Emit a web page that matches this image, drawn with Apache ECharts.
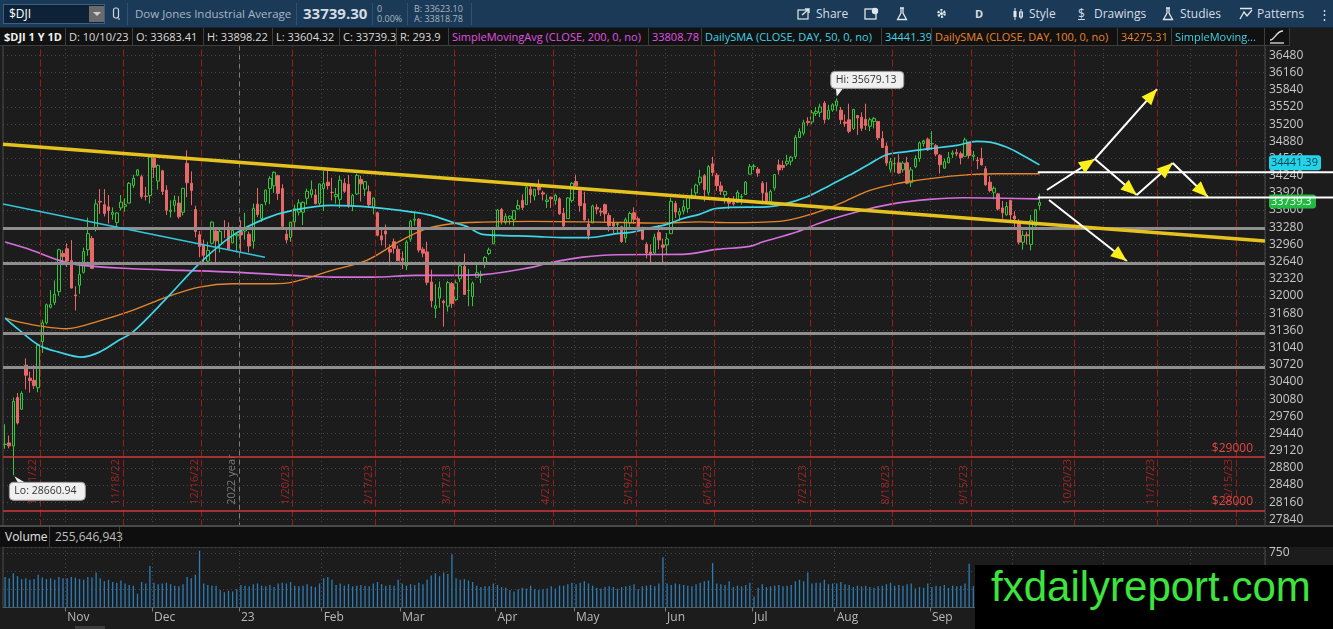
<!DOCTYPE html>
<html><head><meta charset="utf-8"><title>$DJI</title>
<script src="https://cdn.jsdelivr.net/npm/echarts@6/dist/echarts.min.js"></script>
<style>
*{box-sizing:border-box}
html,body{margin:0;padding:0;background:#1c1c1c;width:1333px;height:629px;overflow:hidden;font-family:"Open Sans","Noto Sans",sans-serif}
#chart{position:absolute;left:0;top:0;width:1333px;height:629px}
#tb{position:absolute;left:0;top:0;width:1333px;height:28px;background:#1a3a58;border-bottom:1px solid #10273c}
#tb .t{position:absolute;top:6px;font-size:12px;color:#d6dee6;line-height:16px;white-space:nowrap}
#tb .s{position:absolute;font-size:9px;color:#a9b5c0;line-height:10px;white-space:nowrap}
#tb svg{position:absolute;top:7px}
.sep{position:absolute;top:3px;width:1px;height:22px;background:#2f5272}
#sym{position:absolute;left:3px;top:4px;width:102px;height:20px;background:#0d2236;border:1px solid #3a5f82;color:#fff;font-size:12px;line-height:18px;padding-left:5px}
#dd{position:absolute;left:85px;top:1px;width:15px;height:16px;background:#6a6a6a}
#dd:after{content:"";position:absolute;left:4px;top:6px;border-left:4px solid transparent;border-right:4px solid transparent;border-top:4px solid #cfcfcf}
#row2{position:absolute;left:0;top:28px;width:1333px;height:18px;background:#1c1c1c}
.bx{position:absolute;top:0;height:18px;line-height:17px;font-size:11px;background:#111;border-right:1px solid #3e3e3e;border-bottom:1px solid #3e3e3e;padding-left:3px;overflow:hidden;white-space:nowrap;color:#dcdcdc}
#vband{position:absolute;left:0;top:525px;width:1333px;height:22px;background:#0e0e0e;border-top:2px solid #4a4a4a}
.vb{position:absolute;top:0;height:20px;line-height:19px;font-size:12px;border-right:1px solid #3e3e3e;padding-left:5px;white-space:nowrap}
#wm{position:absolute;left:975px;top:565px;width:358px;height:64px;background:#000;overflow:hidden}
#wm span{position:absolute;left:16px;top:-2px;font-family:"Liberation Sans",Arial,sans-serif;font-size:42px;line-height:48px;color:#3de43d;white-space:nowrap}
#scr{position:absolute;left:75px;top:626px;width:30px;height:3px;background:#3c3c3c}
</style></head>
<body>
<div id="chart"></div>

<div id="tb">
  <div id="sym">$DJI<div id="dd"></div></div>
  <svg style="left:112px" width="9" height="14" viewBox="0 0 9 14"><rect x="1.5" y="1" width="5" height="10" rx="2" fill="none" stroke="#cfd8e0" stroke-width="1.2"/><path d="M6 12 L8 12" stroke="#cfd8e0"/></svg>
  <div class="sep" style="left:127px"></div>
  <div class="t" style="left:135px;color:#a7b6c4;font-size:11.5px">Dow Jones Industrial Average</div>
  <div class="sep" style="left:296px"></div>
  <div class="t" style="left:303px;top:5px;font-size:15px;font-weight:bold;color:#d3dbe3">33739.30</div>
  <div class="sep" style="left:372px"></div>
  <div class="s" style="left:377px;top:4px">0</div>
  <div class="s" style="left:377px;top:14px">0.00%</div>
  <div class="sep" style="left:407px"></div>
  <div class="s" style="left:414px;top:4px">B: 33623.10</div>
  <div class="s" style="left:414px;top:14px">A: 33818.78</div>
  <div class="sep" style="left:471px"></div>

  <svg style="left:797px" width="14" height="13" viewBox="0 0 14 13"><rect x="1" y="3" width="10" height="9" fill="none" stroke="#dfe6ec" stroke-width="1.2"/><path d="M5 8 L12 2 M8 2 H12 V6" fill="none" stroke="#dfe6ec" stroke-width="1.4"/></svg>
  <div class="t" style="left:816px">Share</div>
  <svg style="left:864px" width="15" height="13" viewBox="0 0 15 13"><rect x="1" y="2" width="11" height="10" fill="none" stroke="#dfe6ec" stroke-width="1.3"/><circle cx="11" cy="4" r="3.2" fill="#dfe6ec"/></svg>
  <svg style="left:896px" width="12" height="14" viewBox="0 0 12 14"><path d="M4 1 H8 M5 1 V6 L1.5 12.5 H10.5 L7 6 V1" fill="none" stroke="#dfe6ec" stroke-width="1.3"/></svg>
  <svg style="left:935px" width="13" height="13" viewBox="0 0 13 13"><circle cx="6.5" cy="6.5" r="3.2" fill="none" stroke="#dfe6ec" stroke-width="2.4" stroke-dasharray="2 1.4"/><circle cx="6.5" cy="6.5" r="1.6" fill="#dfe6ec"/></svg>
  <div class="t" style="left:975px;font-weight:bold;font-size:11px">D</div>
  <svg style="left:1012px" width="12" height="14" viewBox="0 0 12 14"><path d="M3 1 V13 M9 2 V12" stroke="#dfe6ec" stroke-width="1"/><rect x="1.5" y="4" width="3" height="6" fill="#dfe6ec"/><rect x="7.5" y="5" width="3" height="5" fill="none" stroke="#dfe6ec"/></svg>
  <div class="t" style="left:1029px">Style</div>
  <div class="t" style="left:1078px;text-decoration:underline">$</div>
  <div class="t" style="left:1094px">Drawings</div>
  <svg style="left:1162px" width="12" height="14" viewBox="0 0 12 14"><path d="M4 1 H8 M5 1 V6 L1.5 12.5 H10.5 L7 6 V1" fill="none" stroke="#dfe6ec" stroke-width="1.3"/></svg>
  <div class="t" style="left:1180px">Studies</div>
  <svg style="left:1239px" width="14" height="13" viewBox="0 0 14 13"><path d="M1 1.5 H13 M1 12 L5 5 L8 9 L13 3" fill="none" stroke="#dfe6ec" stroke-width="1.3"/></svg>
  <div class="t" style="left:1257px">Patterns</div>
  <div class="t" style="left:1318px;font-size:13px">&#8942;&#8942;</div>
</div>

<div id="row2">
  <div class="bx" style="left:0;width:66px;font-weight:bold;color:#f0f0f0;padding-left:4px">$DJI 1 Y 1D</div>
  <div class="bx" style="left:66px;width:67px">D: 10/10/23</div>
  <div class="bx" style="left:133px;width:71px">O: 33683.41</div>
  <div class="bx" style="left:204px;width:69px">H: 33898.22</div>
  <div class="bx" style="left:273px;width:67px">L: 33604.32</div>
  <div class="bx" style="left:340px;width:57px">C: 33739.3</div>
  <div class="bx" style="left:397px;width:52px">R: 293.9</div>
  <div class="bx" style="left:449px;width:200px;color:#e052e0">SimpleMovingAvg (CLOSE, 200, 0, no)</div>
  <div class="bx" style="left:649px;width:53px;color:#e052e0">33808.78</div>
  <div class="bx" style="left:702px;width:180px;color:#3fd3e4">DailySMA (CLOSE, DAY, 50, 0, no)</div>
  <div class="bx" style="left:882px;width:50px;color:#3fd3e4">34441.39</div>
  <div class="bx" style="left:932px;width:186px;color:#e8852a">DailySMA (CLOSE, DAY, 100, 0, no)</div>
  <div class="bx" style="left:1118px;width:54px;color:#e8852a">34275.31</div>
  <div class="bx" style="left:1172px;width:93px;color:#3fd3e4">SimpleMoving...</div>
  <div class="bx" style="left:1265px;width:25px;padding-left:3px"><svg width="18" height="16" viewBox="0 0 18 16"><path d="M2 12 C7 12 8 3 15 3" fill="none" stroke="#e0e0e0" stroke-width="1.3"/><path d="M2 15 H16" stroke="#e0e0e0" stroke-width="1.3"/></svg></div>
</div>

<div id="vband">
  <div class="vb" style="left:0;width:50px;color:#e4e4e4">Volume</div>
  <div class="vb" style="left:50px;width:70px;color:#bdbdbd">255,646,943</div>
</div>
<div id="scr"></div>
<div id="wm"><span>fxdailyreport.com</span></div>

<script>
// ---------------- calendar ----------------
const START_DATE = '2022-10-11';
const SLOT_COUNT = 305;               // trading days incl. empty future space
const HOLIDAYS = ['2022-11-24','2022-12-26','2023-01-02','2023-01-16','2023-02-20','2023-04-07',
  '2023-05-29','2023-06-19','2023-07-04','2023-09-04','2023-11-23','2023-12-25'];
const MONTHS = ['Jan','Feb','Mar','Apr','May','Jun','Jul','Aug','Sep','Oct','Nov','Dec'];
const EXPIRIES = ['2022-10-21','2022-11-18','2022-12-16','2023-01-20','2023-02-17','2023-03-17','2023-04-21',
  '2023-05-19','2023-06-16','2023-07-21','2023-08-18','2023-09-15','2023-10-20','2023-11-17','2023-12-15'];
const YEAR_START = '2023-01-03';

// ---------------- daily candles [open, high, low, close] ----------------
const M2210 = [[29238,29612,29155,29239],[29265,29402,29163,29210],[29206,30110,28660.94,30039],[30110,30193,29608,29635],
 [29890,30224,29886,30186],[30710,30840,30260,30524],[30470,30590,30200,30424],[30430,30710,30270,30334],
 [30290,31100,30207,31083],[31150,31560,30940,31500],[31500,31860,31470,31837],[31790,32110,31770,31839],
 [31880,32290,31830,32033],[32080,32880,32000,32862],[32790,32850,32570,32733]];
const M2211 = [[32880,32980,32540,32653],[32660,33040,32140,32148],[32020,32180,31730,32001],[32200,32580,32040,32403],
 [32440,32900,32420,32827],[32860,33460,32750,33161],[33070,33120,32510,32514],[33240,33800,33200,33715],
 [33760,33990,33530,33748],[33700,33990,33480,33537],[33660,33880,33350,33593],[33520,33650,33420,33554],
 [33370,33560,33280,33546],[33640,33880,33590,33746],[33670,33820,33570,33700],[33730,34120,33730,34098],
 [34060,34260,34010,34194],[34250,34360,34230,34347],[34220,34260,33810,33849],[33860,34030,33780,33853],
 [33870,34590,33720,34590]];
const M2212 = [[34560,34600,34200,34395],[34140,34450,33980,34430],[34330,34350,33880,33947],[33970,34060,33510,33596],
 [33570,33780,33460,33598],[33690,33870,33560,33781],[33730,33860,33440,33476],[33560,34010,33500,34005],
 [34470,34712,33840,34109],[34100,34320,33690,33966],[33610,33680,33090,33202],[33140,33210,32720,32920],
 [32960,33050,32620,32758],[32650,33010,32580,32850],[32980,33390,32980,33376],[33210,33280,32580,33027],
 [32960,33230,32810,33204],[33260,33410,33080,33242],[33280,33370,32870,32876],[32990,33290,32980,33221],
 [33120,33150,32810,33147]];
const M2301 = [[33200,33410,32810,33136],[33210,33550,33050,33270],[33150,33200,32810,32930],[33020,33720,32880,33631],
 [33710,34010,33470,33518],[33440,33710,33380,33704],[33750,33980,33690,33973],[34000,34230,33710,34190],
 [34050,34320,33920,34303],[34240,34260,33790,33911],[34000,34080,33270,33297],[33150,33280,32980,33045],
 [33090,33380,33010,33375],[33380,33700,33280,33630],[33560,33800,33500,33734],[33560,33760,33320,33744],
 [33820,34000,33700,33949],[33890,34150,33830,33978],[33880,33990,33710,33717],[33720,34090,33690,34086]];
const M2302 = [[34000,34330,33580,34093],[34120,34340,33980,34054],[33930,34200,33780,33926],[33850,34010,33720,33891],
 [33800,34240,33640,34157],[34100,34190,33920,33949],[34080,34250,33640,33700],[33680,33900,33580,33869],
 [33900,34280,33880,34246],[34170,34240,33760,34089],[33990,34140,33860,34128],[33940,34060,33640,33697],
 [33650,33830,33520,33827],[33550,33570,33110,33130],[33120,33240,32940,33045],[33210,33330,32900,33154],
 [32870,32960,32570,32817],[33010,33070,32790,32889],[32870,32940,32650,32657]];
const M2303 = [[32700,32830,32500,32662],[32560,33040,32480,33004],[33060,33420,33010,33391],[33410,33570,33310,33431],
 [33430,33450,32810,32856],[32870,32910,32720,32798],[32820,33010,32200,32255],[32260,32490,31790,31910],
 [31770,32220,31590,31819],[31960,32270,31780,32155],[31900,31930,31430,31875],[31810,32280,31710,32247],
 [32230,32260,31780,31862],[31930,32290,31910,32245],[32320,32620,32260,32561],[32550,32790,32030,32030],
 [32100,32500,31810,32105],[31990,32270,31810,32238],[32350,32600,32340,32432],[32380,32470,32240,32394],
 [32590,32740,32520,32718],[32790,32900,32760,32859],[32970,33280,32970,33274]];
const M2304 = [[33280,33620,33270,33601],[33610,33640,33330,33402],[33370,33540,33330,33483],[33440,33500,33330,33485],
 [33420,33600,33300,33587],[33620,33790,33600,33685],[33780,33890,33600,33647],[33700,34040,33700,34030],
 [33990,34080,33730,33886],[33860,33990,33780,33987],[34050,34170,33880,33977],[33920,33960,33780,33897],
 [33760,33890,33640,33787],[33840,33850,33640,33809],[33780,33900,33700,33875],[33810,33840,33510,33531],
 [33540,33640,33280,33302],[33440,33840,33440,33826],[33780,34120,33740,34098]];
const M2305 = [[34130,34260,34010,34052],[33960,34010,33570,33685],[33720,33940,33400,33414],[33340,33440,33050,33128],
 [33360,33700,33360,33674],[33650,33710,33520,33619],[33580,33640,33490,33562],[33700,33720,33370,33531],
 [33500,33550,33200,33310],[33370,33450,33170,33301],[33330,33370,33180,33349],[33290,33310,32990,33012],
 [33080,33460,32990,33421],[33360,33570,33280,33536],[33550,33650,33340,33427],[33440,33480,33230,33287],
 [33230,33290,33040,33056],[32960,33000,32700,32800],[32820,32960,32590,32765],[32800,33160,32770,33093],
 [33180,33320,32870,33043],[32950,33070,32590,32908]];
const M2306 = [[32950,33170,32760,33062],[33160,33830,33160,33763],[33720,33770,33450,33563],[33510,33640,33400,33573],
 [33580,33790,33520,33665],[33630,33860,33550,33834],[33870,34000,33800,33877],[33920,34090,33820,34066],
 [34110,34350,34060,34212],[34240,34270,33760,33979],[33930,34440,33870,34408],[34460,34590,34230,34299],
 [34250,34290,33960,34054],[34050,34130,33880,33952],[33880,33960,33720,33947],[33800,33840,33620,33727],
 [33740,33860,33680,33715],[33740,33970,33730,33927],[33840,33900,33700,33853],[33890,34140,33890,34122],
 [34270,34460,34260,34408]];
const M2307 = [[34410,34460,34340,34418],[34360,34400,34220,34289],[34100,34140,33710,33922],[33920,34120,33710,33735],
 [33750,33980,33700,33944],[34010,34270,33960,34261],[34440,34540,34260,34347],[34430,34520,34340,34395],
 [34460,34630,34420,34509],[34510,34610,34430,34585],[34600,35000,34550,34952],[34950,35120,34940,35061],
 [35030,35280,34990,35225],[35250,35330,35170,35228],[35240,35460,35200,35411],[35400,35520,35350,35438],
 [35420,35580,35330,35520],[35590,35630,35210,35283],[35300,35560,35280,35459],[35460,35590,35430,35560]];
const M2308 = [[35540,35679.13,35440,35631],[35460,35520,35200,35283],[35240,35380,35150,35216],[35280,35580,35030,35066],
 [35120,35480,35090,35473],[35360,35370,35000,35314],[35330,35420,35070,35123],[35290,35580,35090,35176],
 [35160,35320,35070,35281],[35250,35330,35120,35308],[35250,35260,34900,34946],[34930,35070,34760,34766],
 [34790,34860,34420,34475],[34360,34570,34300,34501],[34460,34580,34300,34464],[34480,34640,34270,34289],
 [34350,34510,34300,34473],[34480,34590,34080,34099],[34110,34400,34030,34347],[34410,34620,34380,34560],
 [34560,34880,34500,34853],[34840,34910,34780,34890],[34920,34950,34700,34722]];
const M2309 = [[34830,35070,34720,34838],[34800,34830,34600,34642],[34620,34640,34280,34443],[34380,34560,34370,34501],
 [34480,34680,34470,34577],[34640,34710,34570,34664],[34670,34740,34600,34646],[34650,34690,34450,34576],
 [34600,34950,34600,34907],[34850,34870,34560,34618],[34600,34700,34520,34624],[34530,34590,34360,34518],
 [34560,34760,34430,34441],[34370,34420,34050,34070],[34120,34230,33930,33964],[33930,34040,33800,34007],
 [33900,33920,33590,33619],[33640,33770,33440,33550],[33510,33750,33500,33666],[33780,33790,33410,33508]];
const M2310 = [[33490,33580,33240,33433],[33390,33430,32960,33002],[33000,33220,32860,33130],[33140,33200,32960,33120],
 [32960,33510,32850,33408],[33310,33620,33290,33605],[33683.41,33898.22,33604.32,33739.3]];

// ---------------- daily volume (millions) ----------------
const VOLUME = [
 420,400,470,430,390,400,380,390,450,410,390,400,380,420,400,
 400,420,410,390,380,420,410,480,400,360,380,350,340,370,330,310,300,190,350,330,570,
 340,320,330,340,320,300,290,320,420,400,450,780,330,310,300,300,240,210,230,220,250,
 310,300,290,320,330,300,290,310,280,330,340,330,350,300,290,300,320,290,280,330,
 400,420,380,310,330,300,320,290,300,310,300,290,330,350,320,300,310,300,380,
 330,300,320,310,340,320,380,440,470,430,480,460,730,400,380,390,370,350,300,280,290,290,330,
 310,280,270,240,220,250,270,260,300,250,240,250,260,290,260,300,300,320,340,
 320,340,360,330,300,270,260,280,290,280,260,280,290,300,320,250,290,300,310,290,330,690,
 330,310,330,320,310,300,290,320,340,360,370,610,330,320,310,360,280,300,290,310,340,
 150,270,320,280,290,300,310,290,300,310,360,380,360,480,330,340,340,380,320,330,
 330,350,320,310,280,300,290,300,280,270,290,300,320,340,300,310,300,320,330,260,280,270,330,
 280,300,290,310,270,300,290,300,330,600,290,300,320,360,330,300,340,330,320,360,
 330,350,320,290,320,260,255.6];

// ---------------- moving averages [day index, value] ----------------
const SMA50 = [[0,31589],[3.5,31360],[8.3,31080],[13,30955],[18.5,30862],[22.8,30955],[27.7,31186],[30.8,31322],
 [39,31955],[47,32607],[55,33128],[63,33445],[69.5,33594],[79,33687],[88.8,33650],[98.5,33562],[103,33501],
 [108,33376],[111.5,33296],[115.4,33147],[119.5,33128],[127.5,33110],[135.7,33085],[140.5,33085],[147.8,33160],
 [151.7,33190],[156.5,33277],[159.9,33333],[163.7,33440],[167.8,33520],[172,33631],[179.9,33655],[183,33655],
 [188,33706],[193.7,33842],[199.3,34059],[204,34246],[209,34463],[213,34631],[217,34680],[223.4,34743],
 [230,34804],[234.8,34879],[238,34866],[242,34773],[246,34618],[250,34441.39]];
const SMA100 = [[0,31589],[3.5,31514],[9,31434],[14.8,31391],[22.8,31536],[30.8,31732],[39,31980],[47,32166],
 [55,32229],[64.6,32229],[69.5,32259],[79,32477],[87.4,32663],[95.3,33017],[101.9,33253],[108,33346],
 [115.4,33376],[127.5,33389],[143.7,33376],[158.2,33357],[167.8,33380],[175.1,33365],[187.2,33389],
 [195.2,33532],[201.7,33719],[209,33966],[215.5,34091],[220.3,34152],[226.6,34214],[233.1,34259],
 [239.6,34277],[250,34275.31]];
const SMA200 = [[0,33004],[6.6,32849],[13.1,32663],[18.7,32570],[30.8,32508],[42.9,32477],[55,32445],[69.5,32384],
 [79.1,32352],[88.8,32352],[99.4,32384],[107.4,32384],[115.4,32397],[127.5,32538],[131.6,32620],[139.6,32724],
 [147.8,32769],[163.7,32775],[172,32868],[179.9,32924],[183,33004],[191.3,33190],[197.6,33376],[205.8,33562],
 [213.8,33706],[223.4,33799],[231.4,33830],[250,33808.78]];

// ---------------- drawings ----------------
const GRAY_LEVELS = [33260, 32614, 31305, 30678];
const RED_LEVELS = [29000, 28000];
const YELLOW_TREND = [[-0.5, 34825], [304.5, 33025]];
const CYAN_TREND = [[-0.5, 33712], [62.8, 32720]];
const WHITE_LEVELS = [34305, 33832];
const WHITE_SPAN = [249.6, 321];
const ARROWS = [[251.8,33973,263.4,34550],[263.4,34550,278.4,35853],[263.4,34550,273.5,33880],
 [273.5,33880,282.2,34475],[282.2,34475,290.7,33843],[252.3,33787,271.1,32651]];

// ---------------- axes ----------------
const PRICE_MIN = 27520, PRICE_MAX = 37120, PRICE_STEP = 320;
const VOL_MAX = 830, VOL_STEP = 250;

// ---------------- build ----------------
function buildDates(){
  const out = []; const p = START_DATE.split('-').map(Number);
  const d = new Date(Date.UTC(p[0], p[1]-1, p[2]));
  while (out.length < SLOT_COUNT){
    const s = d.toISOString().slice(0,10), wd = d.getUTCDay();
    if (wd !== 0 && wd !== 6 && HOLIDAYS.indexOf(s) < 0) out.push(s);
    d.setUTCDate(d.getUTCDate()+1);
  }
  return out;
}
const DATES = buildDates();
const OHLC = [].concat(M2210,M2211,M2212,M2301,M2302,M2303,M2304,M2305,M2306,M2307,M2308,M2309,M2310);
const candles = OHLC.map(r => [r[0], r[3], r[2], r[1]]);
const monthStart = i => i > 0 && DATES[i].slice(0,7) !== DATES[i-1].slice(0,7);
const monthLabel = v => { const m = +v.slice(5,7); return m === 1 ? v.slice(2,4) : MONTHS[m-1]; };
const dotted = {color:'#474747', width:1, type:[1,3]};
const FONT = '"Open Sans", "Noto Sans", sans-serif';

const vLines = EXPIRIES.map(d => ({xAxis: DATES.indexOf(d) + 0.5,
  lineStyle:{color:'#9b1b1b', type:[7,3], width:1}}));
vLines.push({xAxis: DATES.indexOf(YEAR_START) - 0.5, lineStyle:{color:'#7d7d7d', type:[5,4], width:1}});

const levelLines = GRAY_LEVELS.map(v => ({yAxis:v, lineStyle:{color:'#8e8e8e', width:3, type:'solid'}}))
 .concat(RED_LEVELS.map(v => ({yAxis:v, lineStyle:{color:'#d23838', width:1.5, type:'solid'},
   label:{show:true, position:'insideEndTop', formatter:'$'+v, color:'#e04646', fontSize:12, fontFamily:FONT, distance:[12,3]}})));

const chart = echarts.init(document.getElementById('chart'), null, {renderer:'canvas', width:1333, height:629});
const option = {
  animation:false, backgroundColor:'#1c1c1c',
  textStyle:{fontFamily:FONT},
  grid:[
    {left:3, right:68, top:21, height:515.6, show:true, borderColor:'#4a4a4a', borderWidth:1, backgroundColor:'transparent', containLabel:false, outerBoundsMode:'none'},
    {left:3, right:68, top:547, height:60.5, show:true, borderColor:'#4a4a4a', borderWidth:1, backgroundColor:'transparent', containLabel:false, outerBoundsMode:'none'}
  ],
  xAxis:[
    {type:'category', gridIndex:0, data:DATES, boundaryGap:true, axisLine:{show:false}, axisTick:{show:false}, axisLabel:{show:false},
     splitLine:{show:true, interval:(i)=>monthStart(i), lineStyle:dotted}},
    {type:'value', gridIndex:0, min:-0.5, max:SLOT_COUNT-0.5, show:false, splitLine:{show:false}},
    {type:'category', gridIndex:1, data:DATES, boundaryGap:true,
     axisLine:{show:true, lineStyle:{color:'#555'}},
     axisTick:{show:true, interval:(i)=>monthStart(i), length:4, lineStyle:{color:'#777'}},
     axisLabel:{show:true, interval:(i)=>monthStart(i), formatter:(v)=>monthLabel(v), color:'#b8b8b8', fontSize:12, align:'left', margin:4, fontFamily:FONT},
     splitLine:{show:true, interval:(i)=>monthStart(i), lineStyle:dotted}}
  ],
  yAxis:[
    {type:'value', gridIndex:0, position:'right', min:PRICE_MIN, max:PRICE_MAX, interval:PRICE_STEP,
     axisLine:{show:false}, axisTick:{show:false},
     axisLabel:{color:'#c8c8c8', fontSize:12, margin:4, fontFamily:FONT, formatter:(v)=>String(v)},
     splitLine:{show:true, lineStyle:dotted}},
    {type:'value', gridIndex:1, position:'right', min:0, max:VOL_MAX, interval:VOL_STEP,
     axisLine:{show:false}, axisTick:{show:false},
     axisLabel:{color:'#c8c8c8', fontSize:12, margin:4, showMaxLabel:false, fontFamily:FONT, formatter:(v)=>String(v)},
     splitLine:{show:true, lineStyle:dotted}}
  ],
  series:[
    {name:'expiry', type:'line', xAxisIndex:1, yAxisIndex:0, data:[], z:1, silent:true,
     markLine:{silent:true, symbol:['none','none'], animation:false, label:{show:false}, lineStyle:{type:'solid'}, data:vLines}},
    {name:'$DJI', type:'candlestick', xAxisIndex:0, yAxisIndex:0, data:candles, z:2, barWidth:3,
     itemStyle:{color:'rgba(0,0,0,0)', color0:'#e66868', borderColor:'#33c63a', borderColor0:'#e66868', borderWidth:1}},
    {name:'SMA200', type:'line', xAxisIndex:1, yAxisIndex:0, data:SMA200, smooth:0.35, showSymbol:false, z:3,
     lineStyle:{color:'#d46fdc', width:1.6}},
    {name:'SMA100', type:'line', xAxisIndex:1, yAxisIndex:0, data:SMA100, smooth:0.35, showSymbol:false, z:3,
     lineStyle:{color:'#e5862d', width:1.4}},
    {name:'SMA50', type:'line', xAxisIndex:1, yAxisIndex:0, data:SMA50, smooth:0.35, showSymbol:false, z:3,
     lineStyle:{color:'#3fd4e6', width:1.7}},
    {name:'levels', type:'line', xAxisIndex:1, yAxisIndex:0, data:[], z:4, silent:true,
     markLine:{silent:true, symbol:['none','none'], animation:false, label:{show:false}, data:levelLines}},
    {name:'trend', type:'line', xAxisIndex:1, yAxisIndex:0, data:[], z:5, silent:true,
     markLine:{silent:true, symbol:['none','none'], animation:false, label:{show:false}, lineStyle:{type:'solid'},
      data:[
        [{coord:YELLOW_TREND[0], lineStyle:{color:'#e6c21e', width:3.5, type:'solid'}}, {coord:YELLOW_TREND[1]}],
        [{coord:CYAN_TREND[0], lineStyle:{color:'#34c6dc', width:1.5, type:'solid'}}, {coord:CYAN_TREND[1]}]
      ]}},
    {name:'Volume', type:'bar', xAxisIndex:2, yAxisIndex:1, data:VOLUME, barWidth:1.3, itemStyle:{color:'#2c7db6'}}
  ]
};
chart.setOption(option);

// ---------------- overlay drawings placed through the chart's scales ----------------
function overlays(){
  const X = v => chart.convertToPixel({xAxisIndex:1}, v);
  const Y = v => chart.convertToPixel({yAxisIndex:0}, v);
  const els = [];
  const txt = (x, y, text, o) => Object.assign({type:'text', x:x, y:y, silent:true,
    style:Object.assign({text:text, fill:'#ddd', font:'11px '+FONT, align:'left', verticalAlign:'middle',
      textAlign:'left', textVerticalAlign:'middle'}, o.style||{})}, o.el||{});
  const labelBase = Y(RED_LEVELS[1]) - 6;
  EXPIRIES.forEach(d => {
    const i = DATES.indexOf(d); if (i < 0) return;
    const p = d.split('-');
    const s = (+p[1]) + '/' + p[2] + '/' + p[0].slice(2);
    els.push(txt(X(i+0.5)-7, labelBase, s, {el:{rotation:Math.PI/2, z:3}, style:{fill:'#9e2626'}}));
  });
  els.push(txt(X(DATES.indexOf(YEAR_START)-0.5)-7, labelBase, '2022 year', {el:{rotation:Math.PI/2, z:3}, style:{fill:'#7a7a7a'}}));

  // value boxes on the price axis
  const right = X(SLOT_COUNT-0.5);
  const lastSma = SMA50[SMA50.length-1][1];
  const lastClose = OHLC[OHLC.length-1][3];
  const yb1 = Y(lastSma) - 2, yb2 = Y(lastClose) - 1;
  els.push({type:'rect', z:55, silent:true, shape:{x:right+4, y:yb1-7.5, width:52, height:15, r:3}, style:{fill:'#22d3ea'}});
  els.push(txt(right+6, yb1, lastSma.toFixed(2), {el:{z:56}, style:{fill:'#0b4450', font:'11px '+FONT}}));
  els.push({type:'rect', z:55, silent:true, shape:{x:right+4, y:yb2-7, width:47, height:14, r:3}, style:{fill:'#22b843'}});
  els.push(txt(right+6, yb2, String(lastClose), {el:{z:56}, style:{fill:'#e8ffe8', font:'11px '+FONT}}));

  // white horizontal drawings
  WHITE_LEVELS.forEach(v => els.push({type:'line', z:60, silent:true,
    shape:{x1:X(WHITE_SPAN[0]), y1:Y(v), x2:X(WHITE_SPAN[1]), y2:Y(v)}, style:{stroke:'#ffffff', lineWidth:2}}));

  // arrows
  ARROWS.forEach(a => {
    const x1 = X(a[0]), y1 = Y(a[1]), x2 = X(a[2]), y2 = Y(a[3]);
    const ang = Math.atan2(y2-y1, x2-x1), L = 16, W = 6.5;
    const bx = x2 - L*Math.cos(ang), by = y2 - L*Math.sin(ang);
    els.push({type:'line', z:60, silent:true, shape:{x1:x1, y1:y1, x2:x2, y2:y2}, style:{stroke:'#ffffff', lineWidth:2}});
    els.push({type:'polygon', z:61, silent:true, shape:{points:[[x2,y2],[bx+W*Math.sin(ang), by-W*Math.cos(ang)],[bx-W*Math.sin(ang), by+W*Math.cos(ang)]]},
      style:{fill:'#fbf01c'}});
  });

  // Hi / Lo callouts
  let hi = 0, lo = 0;
  OHLC.forEach((r, i) => { if (r[1] > OHLC[hi][1]) hi = i; if (r[2] < OHLC[lo][2]) lo = i; });
  const hx = X(hi), hy = Y(OHLC[hi][1]);
  els.push({type:'polygon', z:70, silent:true, shape:{points:[[hx-1,hy-11],[hx+7,hy-11],[hx,hy-2]]}, style:{fill:'#f0f0f0'}});
  els.push({type:'rect', z:70, silent:true, shape:{x:hx-6, y:hy-27, width:73, height:17, r:4}, style:{fill:'#f0f0f0', stroke:'#9a9a9a', lineWidth:1}});
  els.push(txt(hx-1, hy-18.5, 'Hi: ' + OHLC[hi][1].toFixed(2), {el:{z:71}, style:{fill:'#333', font:'10.5px '+FONT}}));
  const lx = X(lo), ly = Y(OHLC[lo][2]);
  els.push({type:'polygon', z:70, silent:true, shape:{points:[[lx+1,ly+1],[lx+5,ly+8],[lx+13,ly+8]]}, style:{fill:'#f0f0f0'}});
  els.push({type:'rect', z:70, silent:true, shape:{x:lx-4, y:ly+7, width:76, height:18, r:4}, style:{fill:'#f0f0f0', stroke:'#9a9a9a', lineWidth:1}});
  els.push(txt(lx+1, ly+16, 'Lo: ' + OHLC[lo][2].toFixed(2), {el:{z:71}, style:{fill:'#333', font:'10.5px '+FONT}}));

  chart.setOption({graphic:{elements:els}});
}
overlays();
</script>
</body></html>
